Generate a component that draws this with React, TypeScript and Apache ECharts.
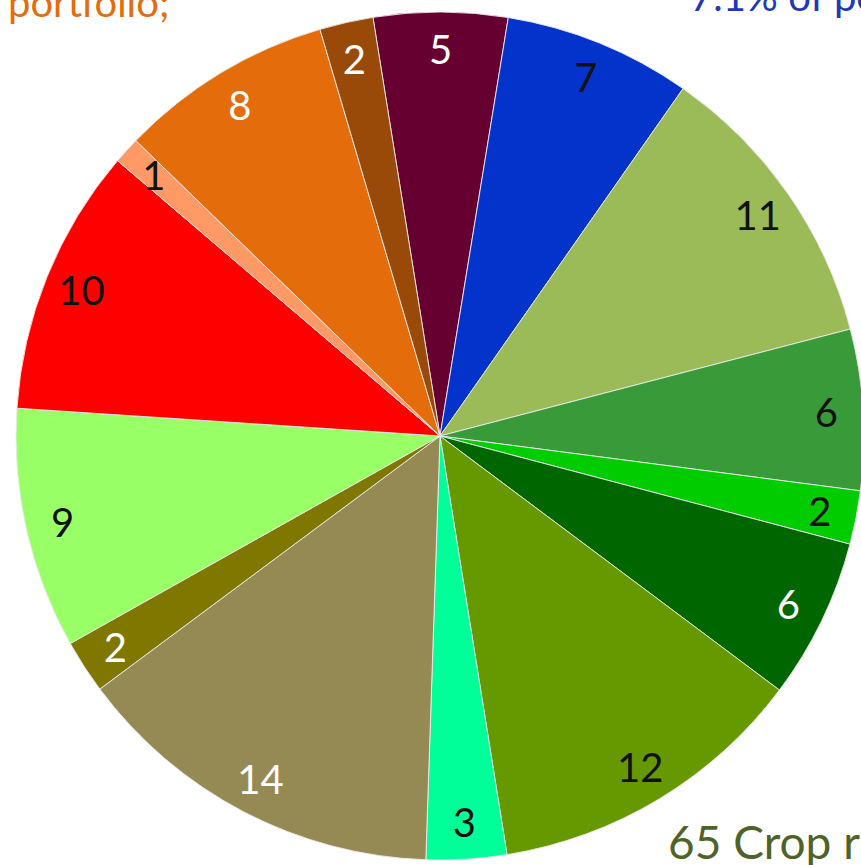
import React, { useEffect, useRef } from "react";
import * as echarts from "echarts";

// Slice values, clockwise from just left of 12 o'clock
const sliceValues = [5, 7, 11, 6, 2, 6, 12, 3, 14, 2, 9, 10, 1, 8, 2];
const sliceNames = [
  "S1", "S2", "S3", "S4", "S5", "S6", "S7", "S8",
  "S9", "S10", "S11", "S12", "S13", "S14", "S15",
];
const sliceColors = [
  "#650030", "#0433cc", "#9bbb59", "#389a38", "#00cc00", "#006600",
  "#669900", "#00ff99", "#968a54", "#7f7700", "#99ff66", "#ff0000",
  "#ff9966", "#e46c0a", "#994a08",
];
const labelColors = [
  "#ffffff", "#111111", "#111111", "#111111", "#111111", "#ffffff",
  "#111111", "#111111", "#ffffff", "#ffffff", "#111111", "#111111",
  "#111111", "#ffffff", "#ffffff",
];
const captionTopLeft = "portfolio;";
const captionTopRight = "7.1% of po";
const captionBottomRight = "65 Crop r";

const FONT = "Lato, 'Open Sans', sans-serif";

export default function App() {
  const ref = useRef<HTMLDivElement>(null);
  useEffect(() => {
    if (!ref.current) return;
    const chart = echarts.init(ref.current, undefined, { renderer: "svg" });
    const center = [440, 436];
    const startAngle = 99.1;
    chart.setOption({
      animation: false,
      backgroundColor: "#ffffff",
      series: [
        {
          type: "pie",
          center,
          radius: [0, 424],
          startAngle,
          clockwise: true,
          silent: true,
          avoidLabelOverlap: false,
          label: { show: false },
          labelLine: { show: false },
          itemStyle: { borderColor: "rgba(235,235,235,0.9)", borderWidth: 1 },
          emphasis: { disabled: true },
          data: sliceValues.map((v, i) => ({
            name: sliceNames[i],
            value: v,
            itemStyle: { color: sliceColors[i] },
          })),
        },
        {
          type: "pie",
          center,
          radius: [344, 424],
          startAngle,
          clockwise: true,
          silent: true,
          avoidLabelOverlap: false,
          labelLine: { show: false },
          itemStyle: { color: "rgba(0,0,0,0)", borderWidth: 0 },
          emphasis: { disabled: true },
          label: {
            show: true,
            position: "inside",
            fontFamily: FONT,
            fontSize: 40,
            formatter: (p: any) => String(p.value),
          },
          data: sliceValues.map((v, i) => ({
            name: sliceNames[i],
            value: v,
            label: { color: labelColors[i] },
          })),
        },
      ],
      graphic: [
        {
          type: "text",
          x: 8,
          y: -18,
          style: {
            text: captionTopLeft,
            fill: "#e46c0a",
            font: `40px ${FONT}`,
          },
        },
        {
          type: "text",
          x: 690,
          y: -24,
          style: {
            text: captionTopRight,
            fill: "#2038b8",
            font: `40px ${FONT}`,
          },
        },
        {
          type: "text",
          x: 668,
          y: 818,
          style: {
            text: captionBottomRight,
            fill: "#4f6228",
            font: `46px ${FONT}`,
          },
        },
      ],
    });
    return () => chart.dispose();
  }, []);
  return (
    <div
      ref={ref}
      style={{ position: "fixed", left: 0, top: 0, width: 861, height: 865 }}
    />
  );
}
